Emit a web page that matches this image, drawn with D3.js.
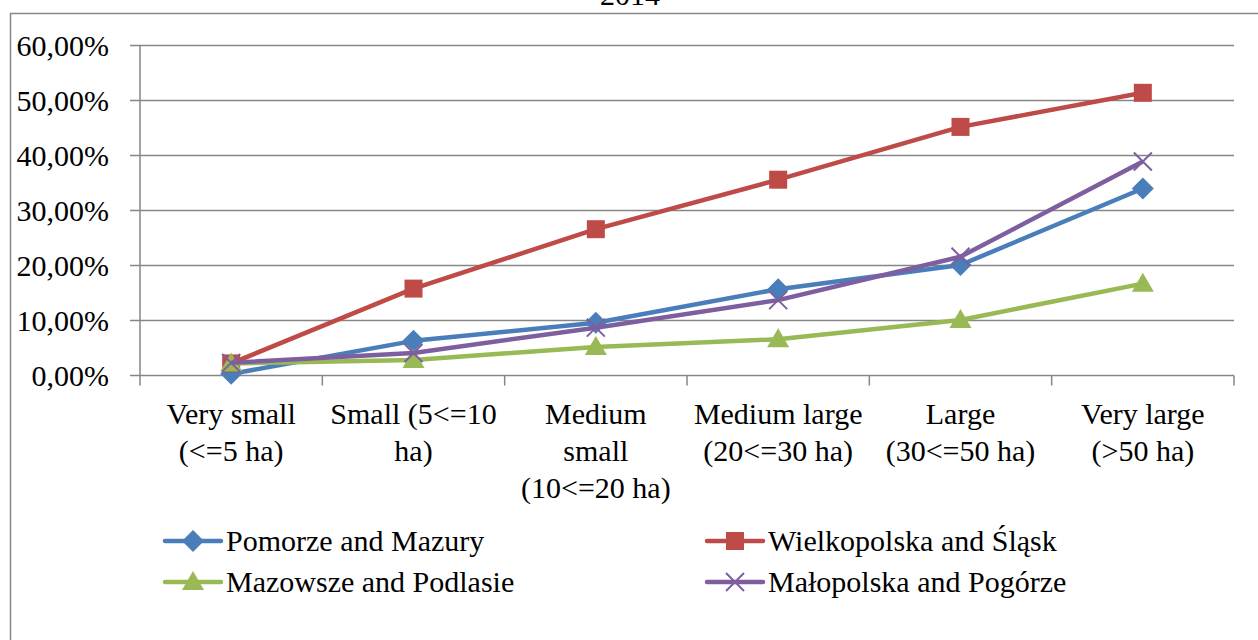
<!DOCTYPE html>
<html>
<head>
<meta charset="utf-8">
<script src="https://d3js.org/d3.v7.min.js"></script>
</head>
<body style="margin:0">
<script>
const width = 1258;
const height = 640;
const FONT = 'Liberation Serif';
const FS = 30;

const categories = [
  ['Very small', '(<=5 ha)'],
  ['Small (5<=10', 'ha)'],
  ['Medium', 'small', '(10<=20 ha)'],
  ['Medium large', '(20<=30 ha)'],
  ['Large', '(30<=50 ha)'],
  ['Very large', '(>50 ha)']
];
const seriesNames = ['Pomorze and Mazury', 'Wielkopolska and Śląsk', 'Mazowsze and Podlasie', 'Małopolska and Pogórze'];
const pomorze = [0.3, 6.3, 9.6, 15.7, 20.1, 34.0];
const wielkopolska = [2.2, 15.8, 26.6, 35.6, 45.2, 51.4];
const mazowsze = [2.2, 2.8, 5.2, 6.6, 10.1, 16.7];
const malopolska = [2.3, 4.1, 8.7, 13.7, 21.6, 38.9];
const yTicks = [0, 10, 20, 30, 40, 50, 60];
const colors = ['#4a7ebb', '#be4b48', '#98b954', '#7d5fa0'];
const shapes = ['diamond', 'square', 'triangle', 'cross'];

const series = [pomorze, wielkopolska, mazowsze, malopolska].map((v,i)=>({
  name: seriesNames[i], values: v, color: colors[i], shape: shapes[i]
}));

const svg = d3.select('body').append('svg')
  .attr('width', width)
  .attr('height', height)
  .style('display', 'block');

function label(sel){
  return sel.attr('font-size', FS)
    .attr('font-family', FONT)
    .style('font-family', d=>FONT);
}

// outer frame
svg.append('rect')
  .attr('x', 10.5).attr('y', 13.5)
  .attr('width', 1260).attr('height', 700)
  .attr('fill', 'none')
  .attr('stroke', '#868686')
  .attr('stroke-width', 1.5);

svg.append('text')
  .attr('x', 630).attr('y', 5)
  .attr('text-anchor', 'middle')
  .call(label)
  .text('2014');

const x = d3.scaleBand()
  .domain(d3.range(categories.length))
  .range([140, 1234]);

const y = d3.scaleLinear()
  .domain([0, 60])
  .range([375.5, 45.5]);

// gridlines + y ticks
const grid = svg.append('g');
grid.selectAll('line')
  .data(yTicks)
  .enter().append('line')
    .attr('x1', 130).attr('x2', 1234)
    .attr('y1', d=>y(d)).attr('y2', d=>y(d))
    .attr('stroke', '#868686')
    .attr('stroke-width', 1.5);

svg.selectAll('.ylab')
  .data(yTicks)
  .enter().append('text')
    .attr('class', 'ylab')
    .attr('x', 109)
    .attr('y', d=>y(d)+10)
    .attr('text-anchor', 'end')
    .call(label)
    .text(d=>d3.format('.2f')(d).replace('.', ',') + '%');

// y axis line
svg.append('line')
  .attr('x1', 140).attr('x2', 140)
  .attr('y1', y(60)).attr('y2', y(0) + 10)
  .attr('stroke', '#868686').attr('stroke-width', 1.5);

// x ticks
const xEdges = d3.range(1, categories.length + 1).map(i=>x(i - 1) + x.bandwidth());
svg.selectAll('.xtick')
  .data(xEdges)
  .enter().append('line')
    .attr('class', 'xtick')
    .attr('x1', d=>d).attr('x2', d=>d)
    .attr('y1', y(0)).attr('y2', y(0) + 10)
    .attr('stroke', '#868686').attr('stroke-width', 1.5);

// x labels, one text per line
const xLines = [];
categories.forEach((lines, i)=>lines.forEach((t, j)=>xLines.push({t, i, j})));
svg.selectAll('.xlab')
  .data(xLines)
  .enter().append('text')
    .attr('class', 'xlab')
    .attr('text-anchor', 'middle')
    .attr('x', d=>x(d.i) + x.bandwidth()/2)
    .attr('y', d=>424 + d.j*37)
    .call(label)
    .text(d=>d.t);

function marker(g, shape, color, cx, cy){
  if(shape === 'diamond'){
    g.append('path')
      .attr('d', `M${cx},${cy-11}L${cx+11},${cy}L${cx},${cy+11}L${cx-11},${cy}Z`)
      .attr('fill', color);
  } else if(shape === 'square'){
    g.append('rect')
      .attr('x', cx-9).attr('y', cy-9)
      .attr('width', 18).attr('height', 18)
      .attr('fill', color);
  } else if(shape === 'triangle'){
    g.append('path')
      .attr('d', `M${cx},${cy-11}L${cx+11},${cy+8}L${cx-11},${cy+8}Z`)
      .attr('fill', color);
  } else {
    g.append('path')
      .attr('d', `M${cx-9},${cy-9}L${cx+9},${cy+9}M${cx+9},${cy-9}L${cx-9},${cy+9}`)
      .attr('stroke', color)
      .attr('stroke-width', 2)
      .attr('fill', 'none');
  }
}

const line = d3.line()
  .x((d,i)=>x(i) + x.bandwidth()/2)
  .y(d=>y(d));

series.forEach(s=>{
  const g = svg.append('g');
  g.append('path')
    .attr('d', line(s.values))
    .attr('fill', 'none')
    .attr('stroke', s.color)
    .attr('stroke-width', 4.5)
    .attr('stroke-linejoin', 'round');
  s.values.forEach((v,i)=>marker(g, s.shape, s.color, x(i) + x.bandwidth()/2, y(v)));
});

// legend
const legendPos = [[165, 541], [707, 541], [165, 582], [707, 582]];
series.forEach((s,i)=>{
  const [lx, ly] = legendPos[i];
  const g = svg.append('g');
  g.append('line')
    .attr('x1', lx).attr('x2', lx + 56)
    .attr('y1', ly).attr('y2', ly)
    .attr('stroke', s.color)
    .attr('stroke-width', 4.5)
    .attr('stroke-linecap', 'round');
  marker(g, s.shape, s.color, lx + 28, ly);
});
svg.selectAll('.leg')
  .data(series)
  .enter().append('text')
    .attr('class', 'leg')
    .attr('x', (d,i)=>legendPos[i][0] + 61)
    .attr('y', (d,i)=>legendPos[i][1] + 10)
    .call(label)
    .text(d=>d.name);
</script>
</body>
</html>
